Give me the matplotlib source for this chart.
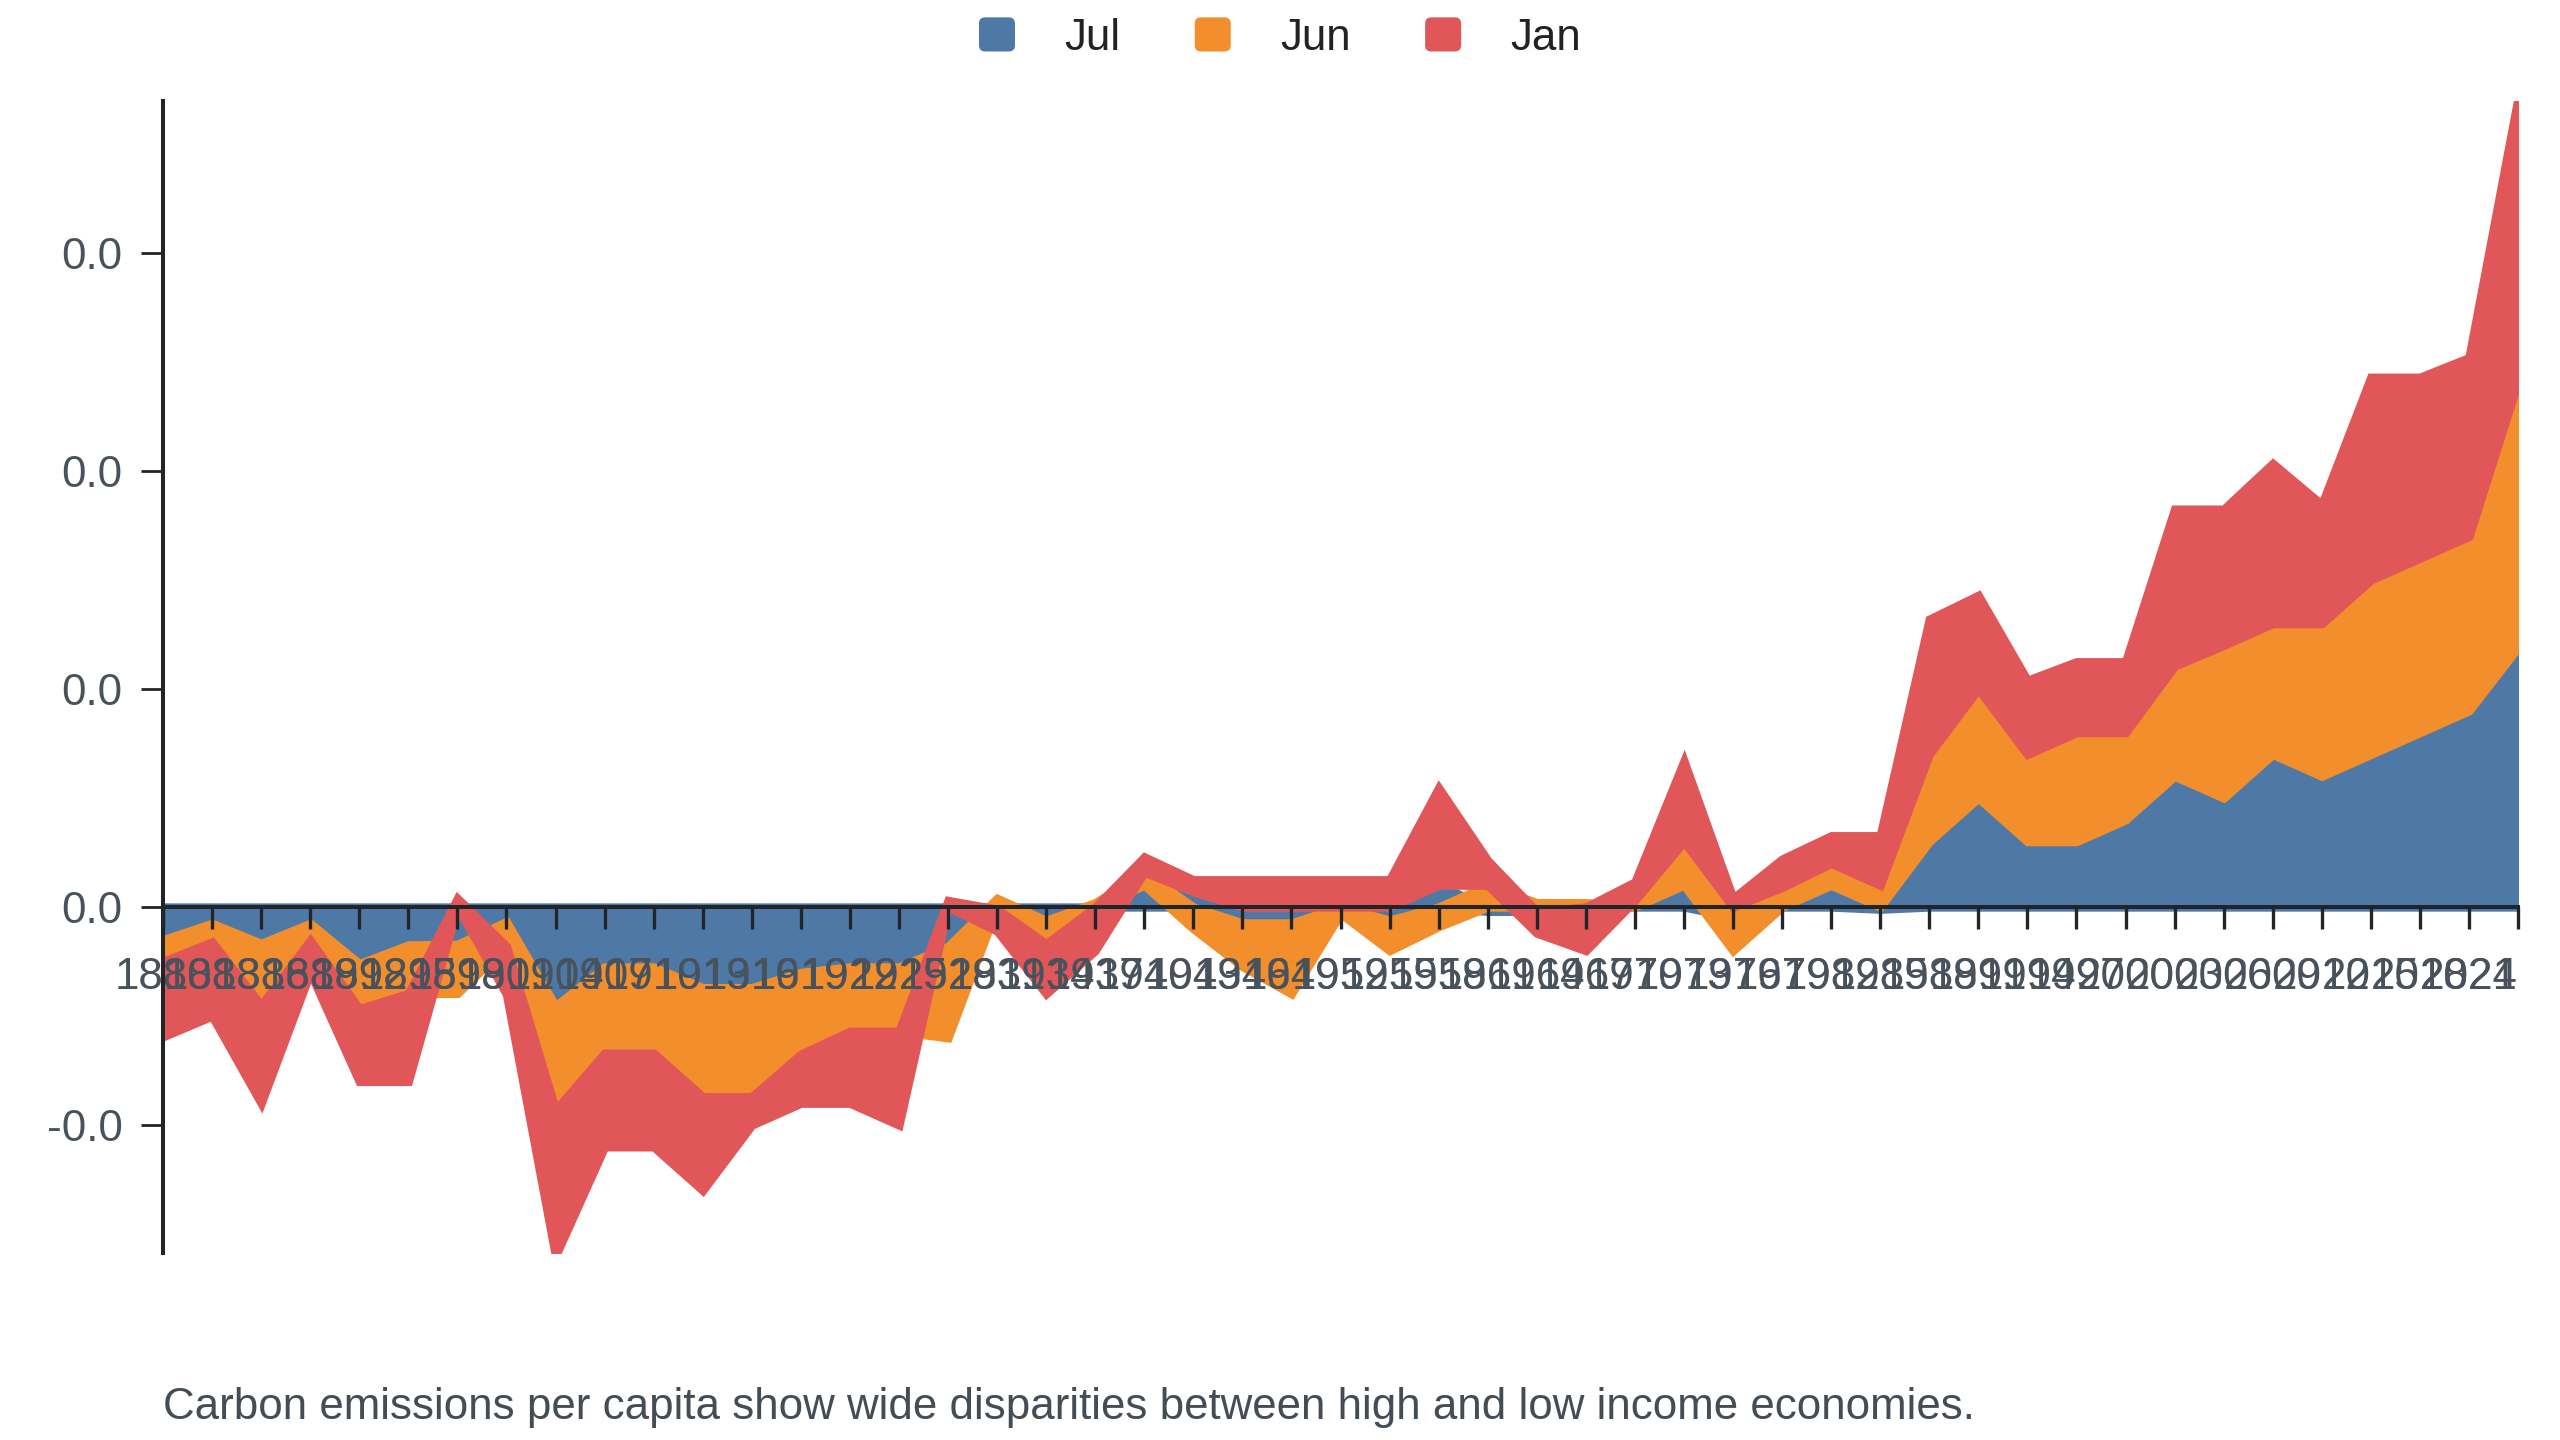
import numpy as np
import matplotlib.pyplot as plt
from matplotlib.patches import Patch, FancyBboxPatch
from matplotlib.legend_handler import HandlerPatch
from matplotlib.ticker import FuncFormatter

plt.rcParams['font.family'] = ['Liberation Sans', 'DejaVu Sans']
plt.rcParams['axes.unicode_minus'] = False

years = ['1880', '1883', '1886', '1889', '1892', '1895', '1898', '1901', '1904', '1907',
         '1910', '1913', '1916', '1919', '1922', '1925', '1928', '1931', '1934', '1937',
         '1940', '1943', '1946', '1949', '1952', '1955', '1958', '1961', '1964', '1967',
         '1970', '1973', '1976', '1979', '1982', '1985', '1988', '1991', '1994', '1997',
         '2000', '2003', '2006', '2009', '2012', '2015', '2018', '2021', '2024']

jul = [-0.0015, -0.00075, -0.00167, -0.00075, -0.0026, -0.00174, -0.00171, -0.00067, -0.00454, -0.00275,
       -0.00275, -0.0037, -0.0037, -0.003, -0.00275, -0.00275, -0.0018, -0.0001, -0.00061, 0.0,
       0.001, 0.0007, -0.00073, -0.00073, 0.0, -0.0006, 0.001, -0.0002, -0.0002, 0.0,
       0.0003, 0.001, -0.00045, 0.0, 0.001, -0.0001, 0.003, 0.005, 0.003, 0.003,
       0.004, 0.006, 0.005, 0.007, 0.006, 0.007, 0.008, 0.009, 0.0119]

jun = [-0.001, -0.00085, -0.00283, -0.00078, -0.00206, -0.00223, -0.00225, -0.00113, -0.00476, -0.00395,
       -0.00395, -0.005, -0.005, -0.00375, -0.00295, -0.00295, -0.0042, 0.0004, -0.00107, 0.0002,
       0.0006, -0.001, -0.002, -0.00325, -0.0003, -0.0014, -0.0009, 0.001, 0.0002, 0.0002,
       0.0, 0.002, -0.00155, 0.0009, 0.001, 0.001, 0.004, 0.005, 0.004, 0.005,
       0.004, 0.00505, 0.007, 0.006, 0.007, 0.008, 0.008, 0.008, 0.0122]

jan = [-0.00345, -0.0034, -0.0045, -0.00147, -0.00334, -0.00403, 0.0004, -0.0022, -0.0067, -0.0043,
       -0.0043, -0.0043, -0.0013, -0.00225, -0.0033, -0.0043, 0.0003, -0.001, -0.0023, -0.002,
       0.0007, 0.00055, 0.00125, 0.00125, 0.00125, 0.00125, 0.00447, 0.00114, -0.001, -0.002,
       0.00085, 0.0037, 0.0004, 0.0013, 0.00127, 0.00227, 0.0062, 0.0043, 0.0034, 0.00325,
       0.00325, 0.0072, 0.00625, 0.00735, 0.00546, 0.0093, 0.0083, 0.0082, 0.0130]

names = ['Jul', 'Jun', 'Jan']
colors = ['#4e79a7', '#f28e2b', '#e15759']
caption = 'Carbon emissions per capita show wide disparities between high and low income economies.'


class RoundSquare(HandlerPatch):
    def create_artists(self, legend, orig_handle, xdescent, ydescent, width, height, fontsize, trans):
        p = FancyBboxPatch((-xdescent, -ydescent), width, height,
                           boxstyle='round,pad=0,rounding_size=%f' % (height * 0.18),
                           facecolor=orig_handle.get_facecolor(), edgecolor='none', transform=trans)
        return [p]


W, H = 2560, 1440
FS = 15.8
fig = plt.figure(figsize=(12.8, 7.2), dpi=200)
ax = fig.add_axes([163 / W, 1 - 1253 / H, (2518 - 163) / W, (1253 - 101) / H])

x = np.arange(len(years))
pos = np.zeros(len(years))
neg = np.zeros(len(years))
# diverging stack: positives pile up from 0, negatives pile down from 0
for vals, color in zip([jul, jun, jan], colors):
    v = np.array(vals)
    lo = np.where(v > 0, pos, np.where(v < 0, neg + v, 0.0))
    hi = np.where(v > 0, pos + v, np.where(v < 0, neg, 0.0))
    pc = ax.fill_between(x, lo, hi, facecolor=color, edgecolor=color, linewidth=3.0, zorder=1)
    pc.set_joinstyle('miter')
    pos = np.where(v > 0, pos + v, pos)
    neg = np.where(v < 0, neg + v, neg)

ax.set_xlim(0, len(years) - 1)
ax.set_ylim(-0.01587, 0.03697)

ax.set_xticks(x)
ax.set_xticklabels(years)
ax.set_yticks([-0.01, 0.0, 0.01, 0.02, 0.03])
ax.yaxis.set_major_formatter(FuncFormatter(lambda v, p: f'{v:.1f}'))

spine_c = '#212529'
for s in ['top', 'right']:
    ax.spines[s].set_visible(False)
ax.spines['bottom'].set_position(('data', 0))
ax.spines['bottom'].set_zorder(3)
for s in ['left', 'bottom']:
    ax.spines[s].set_color(spine_c)
    ax.spines[s].set_linewidth(1.45)

label_c = '#48525c'
ax.tick_params(axis='x', length=8, width=1.2, color=spine_c, pad=10, labelsize=FS, labelcolor=label_c)
ax.tick_params(axis='y', length=8, width=1.0, color=spine_c, pad=6.5, labelsize=FS, labelcolor=label_c)
ax.set_facecolor('none')

handles = [Patch(facecolor=c, edgecolor='none') for c in colors]
fig.legend(handles, names, loc='center', bbox_to_anchor=(0.5, 1 - 38 / H), ncol=3, frameon=False,
           fontsize=FS, handlelength=0.82, handleheight=0.82, handletextpad=1.12, columnspacing=1.7,
           labelcolor='#222222', handler_map={Patch: RoundSquare()})

fig.text(163 / W, 1 - 1408 / H, caption, ha='left', va='center', fontsize=FS, color='#444c55')

# keep the last year label inside the picture
fig.canvas.draw()
ax.xaxis.get_major_ticks()[-1].label1.set_horizontalalignment('right')

fig.savefig('out.png', dpi=200)
